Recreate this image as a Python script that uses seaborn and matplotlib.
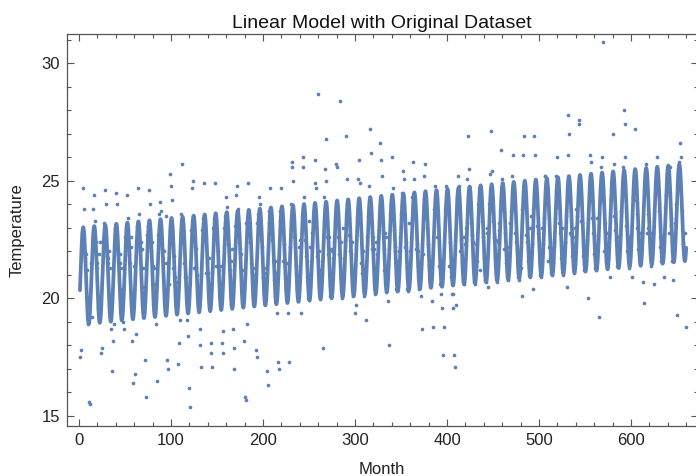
import matplotlib
matplotlib.use("Agg")
import matplotlib.pyplot as plt
import numpy as np
import seaborn as sns
from matplotlib.ticker import MultipleLocator

# Monthly temperature readings, one row per year (months 1..660)
temps = [
    17.5, 17.8, 22.8, 24.7, 23.8, 21.7, 21.6, 21.9, 21.2, 18.9, 15.6, 15.5,
    21.5, 19.2, 23.8, 24.4, 23.3, 22.4, 21.5, 21.3, 19.6, 21.9, 22.4, 17.7,
    17.9, 22.5, 23.2, 24.6, 24.0, 21.8, 21.5, 21.7, 22.0, 21.3, 18.7, 16.9,
    18.2, 18.9, 23.0, 24.5, 24.0, 21.9, 21.5, 21.9, 21.5, 21.3, 20.4, 19.0,
    18.7, 22.6, 23.0, 24.4, 23.4, 21.9, 21.5, 22.2, 22.6, 18.2, 16.4, 21.4,
    16.8, 18.5, 23.1, 24.7, 23.6, 22.0, 22.4, 22.1, 21.3, 19.7, 20.5, 17.4,
    15.8, 22.7, 23.1, 24.6, 24.0, 22.0, 22.4, 21.4, 21.3, 19.7, 20.6, 18.9,
    16.5, 22.7, 23.6, 24.1, 23.7, 22.1, 21.7, 22.0, 19.9, 23.5, 21.5, 17.4,
    17.0, 20.6, 25.3, 24.8, 24.2, 21.3, 21.8, 20.9, 19.9, 19.8, 20.7, 17.2,
    18.1, 19.1, 23.6, 25.7, 22.9, 21.5, 20.9, 20.9, 19.1, 19.8, 18.4, 16.2,
    15.4, 22.9, 24.7, 25.0, 21.3, 22.2, 22.1, 21.0, 20.0, 19.9, 18.7, 18.0,
    17.1, 22.9, 23.4, 24.9, 22.9, 21.1, 21.5, 21.1, 21.7, 19.9, 18.1, 17.7,
    17.1, 23.0, 23.4, 24.9, 21.4, 22.3, 22.0, 21.2, 20.1, 21.4, 18.1, 17.7,
    18.6, 23.0, 23.5, 24.3, 23.9, 22.3, 22.0, 21.2, 21.6, 22.1, 18.7, 17.9,
    17.0, 23.1, 24.4, 24.8, 23.8, 22.4, 22.1, 21.9, 21.2, 20.1, 18.2, 15.8,
    15.7, 23.2, 18.9, 24.9, 23.1, 22.4, 21.5, 21.1, 21.3, 20.1, 21.0, 17.8,
    17.5, 23.2, 23.6, 24.3, 24.0, 22.5, 22.2, 20.9, 21.3, 20.2, 21.1, 16.9,
    16.3, 23.2, 23.7, 24.7, 23.2, 22.5, 21.6, 20.8, 21.6, 21.1, 19.4, 17.3,
    17.0, 23.3, 23.7, 24.7, 23.3, 21.6, 22.3, 21.4, 20.4, 21.5, 19.4, 17.3,
    22.2, 24.0, 25.6, 25.8, 25.0, 22.6, 22.3, 21.4, 20.4, 20.3, 22.2, 22.5,
    19.4, 23.5, 25.6, 26.0, 24.3, 22.5, 21.8, 20.9, 20.0, 23.3, 22.2, 21.6,
    22.8, 23.2, 23.7, 25.9, 24.9, 24.7, 21.8, 28.7, 22.0, 21.2, 20.7, 21.6,
    17.9, 24.3, 25.5, 26.8, 25.0, 22.6, 21.9, 22.6, 20.1, 22.1, 22.0, 21.7,
    22.4, 23.3, 25.7, 25.6, 23.3, 22.6, 21.9, 28.4, 22.4, 20.0, 23.0, 21.7,
    22.5, 26.9, 25.1, 23.9, 23.4, 22.7, 22.0, 21.9, 22.4, 20.1, 20.9, 19.4,
    19.7, 23.4, 25.1, 25.9, 24.9, 22.7, 21.5, 21.1, 22.0, 20.1, 20.9, 19.1,
    22.6, 23.5, 24.8, 27.2, 26.2, 22.8, 22.1, 22.6, 22.1, 20.2, 22.4, 21.9,
    22.6, 22.9, 26.6, 25.9, 25.2, 22.8, 22.1, 21.2, 22.8, 22.6, 21.0, 19.9,
    18.0, 23.6, 24.0, 26.0, 24.7, 22.9, 22.2, 22.0, 20.4, 20.3, 21.6, 22.0,
    22.6, 23.6, 24.5, 25.4, 25.1, 22.2, 22.4, 21.3, 20.4, 20.3, 23.2, 22.0,
    22.6, 24.3, 25.8, 25.1, 23.7, 22.1, 22.3, 21.4, 22.0, 20.4, 21.2, 20.1,
    18.7, 21.9, 25.2, 25.7, 23.7, 23.0, 22.3, 21.4, 21.6, 21.2, 21.5, 19.9,
    18.8, 23.8, 24.8, 24.3, 22.6, 23.1, 21.4, 20.6, 20.6, 20.2, 19.6, 17.6,
    18.8, 23.8, 24.8, 24.3, 23.8, 21.4, 22.4, 20.9, 20.2, 20.2, 19.6, 17.6,
    17.1, 19.7, 24.3, 25.2, 24.8, 22.0, 22.5, 21.5, 20.7, 20.6, 22.6, 22.3,
    23.0, 25.1, 26.9, 25.5, 23.9, 23.2, 22.7, 22.4, 20.7, 20.6, 21.4, 22.3,
    21.6, 24.0, 24.7, 21.2, 24.0, 23.3, 22.6, 21.7, 20.8, 20.7, 23.0, 22.8,
    20.5, 24.0, 25.3, 27.1, 25.4, 23.3, 22.6, 21.7, 22.5, 20.7, 22.4, 22.9,
    23.2, 23.7, 26.3, 25.1, 23.8, 22.1, 22.8, 21.5, 20.9, 20.8, 22.2, 23.2,
    23.2, 23.7, 25.2, 26.1, 23.8, 22.8, 22.4, 22.1, 20.9, 20.8, 21.3, 21.3,
    20.1, 23.8, 26.1, 26.9, 23.9, 22.7, 22.4, 21.6, 21.0, 23.0, 23.5, 22.3,
    20.4, 23.8, 26.9, 26.1, 23.9, 23.1, 22.8, 22.4, 21.0, 20.9, 23.0, 22.3,
    23.4, 25.2, 25.2, 24.5, 24.0, 21.6, 22.2, 21.7, 21.1, 21.0, 21.5, 22.4,
    23.4, 23.9, 25.2, 26.0, 24.0, 23.2, 22.8, 21.7, 23.0, 21.0, 21.5, 22.4,
    23.5, 20.5, 26.1, 27.8, 27.0, 22.8, 22.7, 21.8, 22.6, 21.1, 23.0, 23.8,
    23.5, 24.0, 27.4, 27.6, 24.1, 23.3, 23.2, 21.8, 21.2, 22.2, 21.6, 22.5,
    20.0, 24.1, 26.1, 25.8, 24.2, 23.4, 22.8, 21.9, 21.3, 21.2, 23.4, 22.7,
    19.2, 24.1, 25.6, 26.0, 24.2, 30.9, 22.0, 23.2, 21.6, 22.8, 21.7, 22.6,
    20.9, 24.2, 25.0, 27.0, 25.7, 23.5, 22.9, 22.5, 21.4, 22.2, 22.6, 22.7,
    23.7, 24.2, 25.6, 28.0, 27.4, 26.0, 23.1, 22.0, 22.6, 21.3, 21.8, 22.7,
    20.9, 24.3, 24.8, 27.2, 24.2, 23.6, 23.0, 22.1, 22.8, 22.4, 21.9, 22.8,
    20.7, 19.8, 24.8, 25.7, 22.8, 23.6, 23.0, 23.3, 22.8, 21.4, 21.9, 22.8,
    20.6, 24.4, 24.9, 26.0, 24.5, 23.7, 22.2, 22.6, 21.6, 21.5, 22.0, 20.9,
    23.9, 24.4, 24.9, 25.0, 22.8, 25.6, 23.1, 23.4, 21.6, 20.8, 22.0, 23.2,
    24.0, 19.3, 25.0, 25.8, 26.6, 26.0, 23.7, 22.3, 22.4, 22.8, 22.8, 18.8,
]
months = np.arange(1, len(temps) + 1, dtype=float)

PERIOD = 12  # seasonal cycle, months
BLUE = "#5E81B5"


def design(t):
    # linear trend plus one seasonal harmonic
    w = 2 * np.pi * t / PERIOD
    return np.column_stack([np.ones_like(t), t, np.sin(w), np.cos(w)])


coef, *_ = np.linalg.lstsq(design(months), np.array(temps), rcond=None)
# model evaluated over the span of the data (month 1 to the last month)
t_fit = np.linspace(months[0], months[-1], 4 * len(temps) + 1)
y_fit = design(t_fit) @ coef

sns.set_theme(style="ticks")
plt.rcParams["font.family"] = ["Liberation Sans", "DejaVu Sans"]

W, H = 696, 476
fig = plt.figure(figsize=(W / 100, H / 100), dpi=100)
ax = fig.add_axes([66.7 / W, 1 - 426 / H, (697.5 - 66.7) / W, (426 - 34) / H])

sns.scatterplot(x=months, y=temps, ax=ax, color=BLUE, s=7, linewidth=0, zorder=2)
sns.lineplot(x=t_fit, y=y_fit, ax=ax, color=BLUE, linewidth=2.7, sort=False,
             estimator=None, zorder=3)

ax.set_xlim(-13.4, 672.3)
ax.set_ylim(14.575, 31.245)
ax.xaxis.set_major_locator(MultipleLocator(100))
ax.xaxis.set_minor_locator(MultipleLocator(20))
ax.yaxis.set_major_locator(MultipleLocator(5))
ax.yaxis.set_minor_locator(MultipleLocator(1))
ax.tick_params(which="both", direction="in", top=True, right=True,
               color="#555555", width=0.8, labelsize=12, labelcolor="#222222")
ax.tick_params(which="major", length=5, pad=5)
ax.tick_params(which="minor", length=2.7)
for side in ax.spines.values():
    side.set_color("#555555")
    side.set_linewidth(0.9)

ax.set_title("Linear Model with Original Dataset", fontsize=14, pad=4, color="#111111")
ax.set_xlabel("Month", fontsize=12, labelpad=10, color="#222222")
ax.set_ylabel("Temperature", fontsize=12, labelpad=12, color="#222222")

fig.savefig("out.png", dpi=100)
plt.close(fig)
